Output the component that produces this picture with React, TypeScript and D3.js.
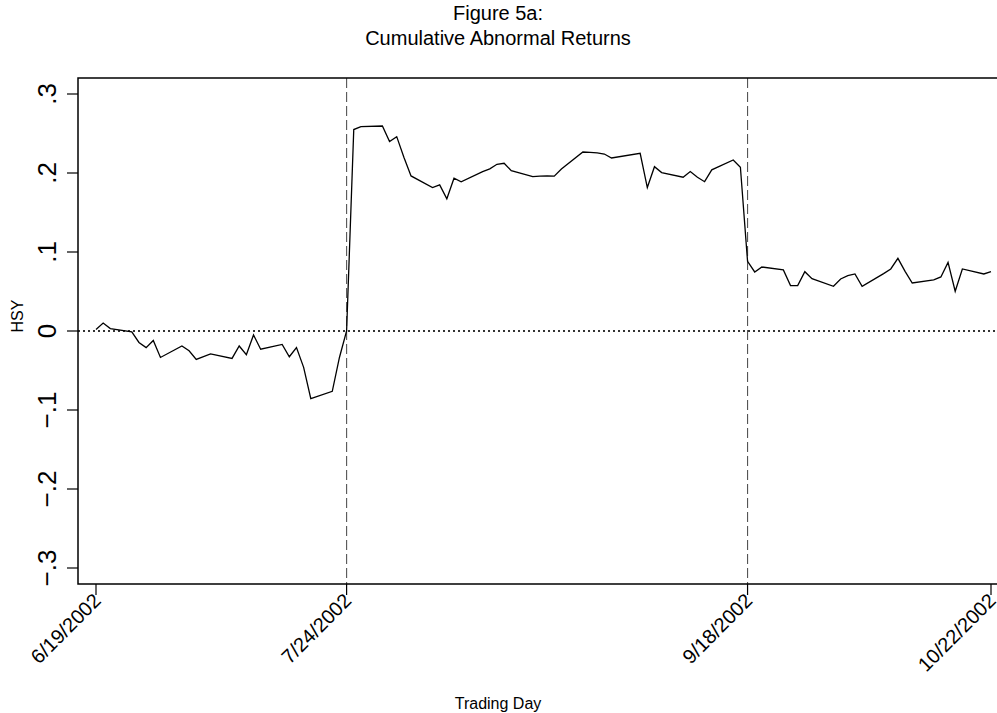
import React, { useEffect, useRef } from 'react'
import * as d3 from 'd3'

const tradingDays = [
  '2002-06-19', '2002-06-20', '2002-06-21', '2002-06-24', '2002-06-25', '2002-06-26', '2002-06-27', '2002-06-28',
  '2002-07-01', '2002-07-02', '2002-07-03', '2002-07-05', '2002-07-08', '2002-07-09', '2002-07-10', '2002-07-11',
  '2002-07-12', '2002-07-15', '2002-07-16', '2002-07-17', '2002-07-18', '2002-07-19', '2002-07-22', '2002-07-23',
  '2002-07-24', '2002-07-25', '2002-07-26', '2002-07-29', '2002-07-30', '2002-07-31', '2002-08-01', '2002-08-02',
  '2002-08-05', '2002-08-06', '2002-08-07', '2002-08-08', '2002-08-09', '2002-08-12', '2002-08-13', '2002-08-14',
  '2002-08-15', '2002-08-16', '2002-08-19', '2002-08-20', '2002-08-21', '2002-08-22', '2002-08-23', '2002-08-26',
  '2002-08-27', '2002-08-28', '2002-08-29', '2002-08-30', '2002-09-03', '2002-09-04', '2002-09-05', '2002-09-06',
  '2002-09-09', '2002-09-10', '2002-09-11', '2002-09-12', '2002-09-13', '2002-09-16', '2002-09-17', '2002-09-18',
  '2002-09-19', '2002-09-20', '2002-09-23', '2002-09-24', '2002-09-25', '2002-09-26', '2002-09-27', '2002-09-30',
  '2002-10-01', '2002-10-02', '2002-10-03', '2002-10-04', '2002-10-07', '2002-10-08', '2002-10-09', '2002-10-10',
  '2002-10-11', '2002-10-14', '2002-10-15', '2002-10-16', '2002-10-17', '2002-10-18', '2002-10-21', '2002-10-22'
]

// cumulative abnormal returns, HSY
const carValues = [
  0.002, 0.010, 0.003, -0.001, -0.0145, -0.021, -0.012, -0.0335,
  -0.019, -0.025, -0.036, -0.029, -0.0347, -0.019, -0.030, -0.005,
  -0.023, -0.017, -0.0326, -0.021, -0.046, -0.0856, -0.0764, -0.0335,
  0.000, 0.255, 0.2586, 0.2595, 0.2397, 0.246, 0.220, 0.1963,
  0.1816, 0.185, 0.1673, 0.1934, 0.1888, 0.2018, 0.2052, 0.211,
  0.2123, 0.203, 0.1955, 0.196, 0.1963, 0.196, 0.205, 0.2266,
  0.226, 0.2254, 0.224, 0.219, 0.225, 0.1816, 0.208, 0.2005,
  0.1947, 0.2018, 0.1947, 0.189, 0.204, 0.2165, 0.2073, 0.0881,
  0.0747, 0.081, 0.0773, 0.0575, 0.0575, 0.0751, 0.0663, 0.0566,
  0.0659, 0.070, 0.0722, 0.0566, 0.0726, 0.0785, 0.092, 0.0755,
  0.0608, 0.0646, 0.0684, 0.0869, 0.0503, 0.0785, 0.0722, 0.0751
]

const xTickDates = ['2002-06-19', '2002-07-24', '2002-09-18', '2002-10-22']
const eventDates = ['2002-07-24', '2002-09-18']
const yTicks = [-0.3, -0.2, -0.1, 0, 0.1, 0.2, 0.3]

const W = 997
const H = 713
const FONT = '"Liberation Sans", Arial, sans-serif'

// Stata style labels: .3, 0, -.1
const yLabel = (v: number) => (v === 0 ? '0' : d3.format('.1f')(v).replace('0.', '.'))

const App: React.FC = () => {
  const svgRef = useRef<SVGSVGElement>(null)

  useEffect(() => {
    if (!svgRef.current) return
    const svg = d3.select(svgRef.current)
    svg.selectAll('*').remove()

    const parse = d3.utcParse('%Y-%m-%d')
    const fmt = d3.utcFormat('%-m/%-d/%Y')
    const data = tradingDays.map((d, i) => ({ date: parse(d) as Date, value: carValues[i] }))

    const plot = { left: 78, top: 78, right: W, bottom: 584 }

    const x = d3.scaleUtc()
      .domain([parse(xTickDates[0]) as Date, parse(xTickDates[3]) as Date])
      .range([96, 991])

    const y = d3.scaleLinear()
      .domain([-0.3, 0.3])
      .range([568, 94])

    svg.append('rect').attr('width', W).attr('height', H).attr('fill', '#fff')

    // title
    const title = svg.append('text')
      .attr('text-anchor', 'middle')
      .style('font-family', FONT)
      .style('font-size', '20px')
      .style('fill', '#000')
    title.append('tspan').attr('x', 498).attr('y', 20).text('Figure 5a:')
    title.append('tspan').attr('x', 498).attr('y', 45).text('Cumulative Abnormal Returns')

    // zero reference line
    svg.append('line')
      .attr('x1', plot.left).attr('x2', plot.right)
      .attr('y1', y(0)).attr('y2', y(0))
      .attr('stroke', '#333')
      .attr('stroke-width', 2.2)
      .attr('stroke-dasharray', '2,3')

    // event date lines
    svg.selectAll('.event-line')
      .data(eventDates)
      .enter()
      .append('line')
      .attr('class', 'event-line')
      .attr('x1', d => x(parse(d) as Date))
      .attr('x2', d => x(parse(d) as Date))
      .attr('y1', plot.top)
      .attr('y2', plot.bottom)
      .attr('stroke', '#555')
      .attr('stroke-width', 1.1)
      .attr('stroke-dasharray', '10,4')

    // CAR line
    const line = d3.line<{ date: Date; value: number }>()
      .x(d => x(d.date))
      .y(d => y(d.value))

    svg.append('path')
      .datum(data)
      .attr('d', line)
      .attr('fill', 'none')
      .attr('stroke', '#000')
      .attr('stroke-width', 1.3)

    // frame: left, bottom and top
    svg.append('path')
      .attr('d', `M${plot.right},${plot.top}H${plot.left}V${plot.bottom}H${plot.right}`)
      .attr('fill', 'none')
      .attr('stroke', '#000')
      .attr('stroke-width', 1.5)

    // y axis
    const yAxis = svg.append('g')
      .style('font-family', FONT)
    yAxis.selectAll('line')
      .data(yTicks)
      .enter()
      .append('line')
      .attr('x1', plot.left - 11).attr('x2', plot.left)
      .attr('y1', d => y(d)).attr('y2', d => y(d))
      .attr('stroke', '#000')
      .attr('stroke-width', 1.2)
    yAxis.selectAll('text')
      .data(yTicks)
      .enter()
      .append('text')
      .attr('transform', d => `translate(56,${y(d)}) rotate(-90)`)
      .attr('text-anchor', 'middle')
      .style('font-size', '26px')
      .text(d => yLabel(d))

    svg.append('text')
      .attr('transform', `translate(23,316) rotate(-90)`)
      .attr('text-anchor', 'middle')
      .style('font-family', FONT)
      .style('font-size', '16px')
      .text('HSY')

    // x axis
    const xAxis = svg.append('g')
      .style('font-family', FONT)
    xAxis.selectAll('line')
      .data(xTickDates)
      .enter()
      .append('line')
      .attr('x1', d => x(parse(d) as Date)).attr('x2', d => x(parse(d) as Date))
      .attr('y1', plot.bottom).attr('y2', plot.bottom + 11)
      .attr('stroke', '#000')
      .attr('stroke-width', 1.2)
    xAxis.selectAll('text')
      .data(xTickDates)
      .enter()
      .append('text')
      .attr('transform', d => `translate(${x(parse(d) as Date) + 6},${plot.bottom + 18}) rotate(-45)`)
      .attr('text-anchor', 'end')
      .style('font-size', '20px')
      .text(d => fmt(parse(d) as Date))

    svg.append('text')
      .attr('x', 498)
      .attr('y', 709)
      .attr('text-anchor', 'middle')
      .style('font-family', FONT)
      .style('font-size', '16px')
      .text('Trading Day')
  }, [])

  return (
    <svg
      ref={svgRef}
      width={W}
      height={H}
      style={{ position: 'absolute', left: 0, top: 0 }}
    />
  )
}

export default App
